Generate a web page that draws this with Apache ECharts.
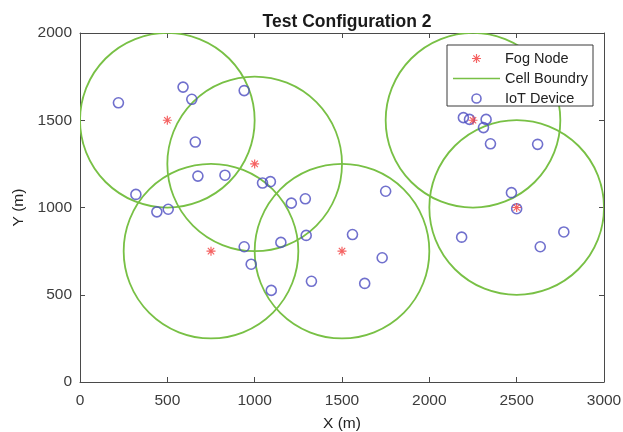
<!DOCTYPE html>
<html>
<head>
<meta charset="utf-8">
<script src="https://cdn.jsdelivr.net/npm/echarts@6/dist/echarts.min.js"></script>
<style>
  html, body { margin: 0; padding: 0; background: #fff; }
  #main { width: 623px; height: 432px; }
</style>
</head>
<body>
<div id="main"></div>
<script>
  // fog node positions (m)
  const fogNodes = [
    [500, 1500], [1000, 1250], [750, 750],
    [1500, 750], [2250, 1500], [2500, 1000]
  ]
  // coverage radius of each cell (m)
  const cellRadius = 500
  // IoT device positions (m)
  const iotDevices = [
    [220, 1600], [590, 1690], [640, 1620], [940, 1670], [660, 1375],
    [675, 1180], [830, 1185], [1045, 1140], [1090, 1148], [320, 1075],
    [440, 975], [505, 990], [1210, 1025], [1290, 1050], [940, 775],
    [980, 675], [1150, 800], [1295, 840], [1095, 525], [1325, 577],
    [1560, 845], [1630, 565], [1730, 712], [1750, 1093], [2195, 1515],
    [2230, 1505], [2325, 1505], [2310, 1458], [2350, 1365], [2620, 1362],
    [2470, 1085], [2500, 993], [2185, 830], [2635, 775], [2770, 860]
  ]

  const red = '#f23b3b'
  const green = '#78c045'
  const blue = '#4c4cc0'
  const axisColor = '#4a4a4a'
  const labelColor = '#3c3c3c'
  const font = 'Liberation Sans, Arial, Helvetica, sans-serif'

  // asterisk marker built from four thin bars
  const asterisk = 'path://M-1.3,-10 L1.3,-10 L1.3,10 L-1.3,10 Z ' +
    'M-10,-1.3 L10,-1.3 L10,1.3 L-10,1.3 Z ' +
    'M-6.15,-8 L8,6.15 L6.15,8 L-8,-6.15 Z ' +
    'M-8,6.15 L6.15,-8 L8,-6.15 L-6.15,8 Z'
  const lineIcon = 'path://M0,0 L47,0 L47,1.7 L0,1.7 Z'

  const chart = echarts.init(document.getElementById('main'))

  const baseAxis = {
    type: 'value',
    axisLine: { show: true, onZero: false, lineStyle: { color: axisColor, width: 1 } },
    axisTick: { show: true, inside: true, length: 5, lineStyle: { color: axisColor } },
    splitLine: { show: false }
  }

  const option = {
    animation: false,
    backgroundColor: '#fff',
    title: {
      text: 'Test Configuration 2',
      left: 342,
      textAlign: 'center',
      top: 8,
      textStyle: { fontFamily: font, fontSize: 17.5, fontWeight: 'bold', color: '#1a1a1a' }
    },
    grid: {
      left: 80,
      right: 19,
      top: 33,
      bottom: 50,
      containLabel: false,
      outerBoundsMode: 'none'
    },
    legend: {
      left: 447,
      top: 45,
      orient: 'vertical',
      itemWidth: 47,
      itemHeight: 9,
      itemGap: 5,
      padding: [6, 5, 0, 6],
      borderColor: '#3a3a3a',
      borderWidth: 1,
      backgroundColor: '#fff',
      textStyle: { fontFamily: font, fontSize: 14.5, lineHeight: 14, color: '#222' },
      data: [
        { name: 'Fog Node', icon: asterisk, itemStyle: { color: red } },
        { name: 'Cell Boundry', icon: lineIcon, itemStyle: { color: green } },
        {
          name: 'IoT Device',
          icon: 'circle',
          itemStyle: { color: 'transparent', borderColor: blue, borderWidth: 1.6 }
        }
      ]
    },
    xAxis: [
      Object.assign({}, baseAxis, {
        min: 0,
        max: 3000,
        interval: 500,
        name: 'X (m)',
        nameLocation: 'middle',
        nameGap: 34,
        nameTextStyle: { fontFamily: font, fontSize: 15.5, color: '#222' },
        axisLabel: { fontFamily: font, fontSize: 15.5, color: labelColor, margin: 11, formatter: v => String(v) }
      }),
      Object.assign({}, baseAxis, {
        min: 0,
        max: 3000,
        interval: 500,
        position: 'top',
        axisLabel: { show: false }
      })
    ],
    yAxis: [
      Object.assign({}, baseAxis, {
        min: 0,
        max: 2000,
        interval: 500,
        name: 'Y (m)',
        nameLocation: 'middle',
        nameGap: 48,
        nameTextStyle: { fontFamily: font, fontSize: 15.5, color: '#222' },
        axisLabel: { fontFamily: font, fontSize: 15.5, color: labelColor, margin: 8, formatter: v => String(v) }
      }),
      Object.assign({}, baseAxis, {
        min: 0,
        max: 2000,
        interval: 500,
        position: 'right',
        axisLabel: { show: false }
      })
    ],
    series: [
      {
        name: 'Cell Boundry',
        type: 'custom',
        clip: true,
        data: fogNodes.map(p => [p[0], p[1], cellRadius]),
        renderItem: function (params, api) {
          const c = api.coord([api.value(0), api.value(1)])
          const r = api.size([api.value(2), 0])[0]
          return {
            type: 'circle',
            shape: { cx: c[0], cy: c[1], r: r },
            style: { fill: 'none', stroke: green, lineWidth: 1.8 }
          }
        },
        z: 2
      },
      {
        name: 'IoT Device',
        type: 'scatter',
        data: iotDevices,
        symbol: 'circle',
        symbolSize: 10,
        itemStyle: { color: 'transparent', borderColor: blue, borderWidth: 1.6 },
        z: 3
      },
      {
        name: 'Fog Node',
        type: 'scatter',
        data: fogNodes,
        symbol: asterisk,
        symbolSize: 9,
        itemStyle: { color: red },
        z: 4
      }
    ]
  }

  chart.setOption(option)
</script>
</body>
</html>
